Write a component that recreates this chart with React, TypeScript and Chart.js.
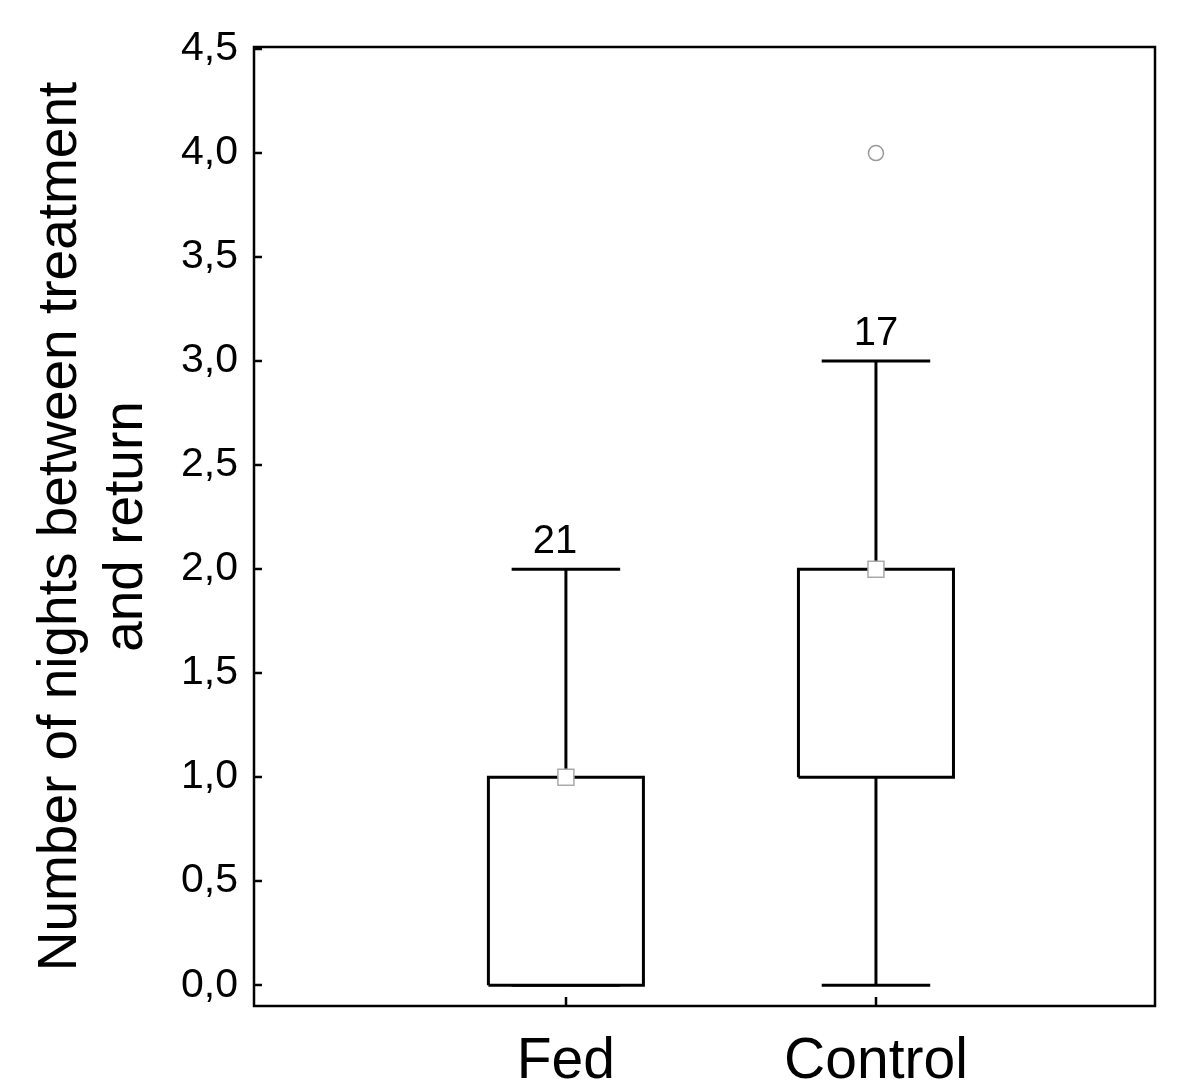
import React, { useEffect, useRef } from "react";
import { Chart, registerables } from "chart.js";

Chart.register(...registerables);

// ---- data ----
const categories = ["Fed", "Control"];
const positions = [1, 2];
const mins = [0, 0];
const q1s = [0, 1];
const medians = [1, 2];
const q3s = [1, 2];
const maxs = [2, 3];
const nLabels = ["21", "17"];
const outlierPos = [2];
const outlierVals = [4];
const yTicks = [0, 0.5, 1, 1.5, 2, 2.5, 3, 3.5, 4, 4.5];
const yTitle = ["Number of nights between treatment", "and return"];

const FONT = "'Liberation Sans', Arial, sans-serif";
const CAP_HALF = 0.175;
const BOX_HALF = 0.25;
const LW = 3;
const nLabelDx = [-11, 0];

const framePlugin = {
  id: "frameAndLabels",
  afterDraw(chart: any) {
    const { ctx, chartArea: a, scales } = chart;
    const xs = scales.x;
    const ys = scales.y;
    ctx.save();
    ctx.strokeStyle = "#000";
    ctx.lineWidth = 2.5;
    ctx.strokeRect(a.left, a.top, a.right - a.left, a.bottom - a.top);
    ctx.beginPath();
    ys.ticks.forEach((t: any) => {
      const py = Math.round(ys.getPixelForValue(t.value));
      ctx.moveTo(a.left, py);
      ctx.lineTo(a.left + 8, py);
    });
    xs.ticks.forEach((t: any) => {
      const px = Math.round(xs.getPixelForValue(t.value));
      ctx.moveTo(px, a.bottom);
      ctx.lineTo(px, a.bottom - 9);
    });
    ctx.stroke();
    ctx.fillStyle = "#000";
    ctx.font = `40px ${FONT}`;
    ctx.textAlign = "center";
    ctx.textBaseline = "alphabetic";
    nLabels.forEach((n, i) => {
      ctx.fillText(n, xs.getPixelForValue(positions[i]) + nLabelDx[i], ys.getPixelForValue(maxs[i]) - 16);
    });
    ctx.restore();
  },
};

export default function App() {
  const ref = useRef<HTMLCanvasElement>(null);
  useEffect(() => {
    if (!ref.current) return;
    const lineDatasets: any[] = [];
    const mk = (data: any[], order: number) => ({
      type: "line",
      data,
      borderColor: "#000",
      borderWidth: LW,
      pointRadius: 0,
      fill: false,
      tension: 0,
      order,
    });
    positions.forEach((p, i) => {
      lineDatasets.push(mk([{ x: p, y: q3s[i] }, { x: p, y: maxs[i] }], 4));
      lineDatasets.push(mk([{ x: p, y: q1s[i] }, { x: p, y: mins[i] }], 4));
      lineDatasets.push(mk([{ x: p - CAP_HALF, y: maxs[i] }, { x: p + CAP_HALF, y: maxs[i] }], 4));
      lineDatasets.push(mk([{ x: p - CAP_HALF, y: mins[i] }, { x: p + CAP_HALF, y: mins[i] }], 4));
      // box outline
      lineDatasets.push(
        mk(
          [
            { x: p - BOX_HALF, y: q1s[i] },
            { x: p - BOX_HALF, y: q3s[i] },
            { x: p + BOX_HALF, y: q3s[i] },
            { x: p + BOX_HALF, y: q1s[i] },
            { x: p - BOX_HALF, y: q1s[i] },
          ],
          2
        )
      );
    });
    const chart = new Chart(ref.current, {
      type: "scatter",
      data: {
        datasets: [
          ...lineDatasets,
          {
            type: "bar",
            data: positions.map((p, i) => ({ x: p, y: [q1s[i], q3s[i]] })),
            backgroundColor: "#fff",
            borderWidth: 0,
            barPercentage: 0.5,
            categoryPercentage: 1,
            order: 3,
          } as any,
          {
            type: "scatter",
            data: positions.map((p, i) => ({ x: p, y: medians[i] })),
            pointStyle: "rect",
            pointRadius: 11.3,
            backgroundColor: "#fff",
            borderColor: "#aaaaaa",
            borderWidth: 1.5,
            order: 1,
          },
          {
            type: "scatter",
            data: outlierPos.map((p, i) => ({ x: p, y: outlierVals[i] })),
            pointStyle: "circle",
            pointRadius: 7.5,
            backgroundColor: "#fff",
            borderColor: "#999999",
            borderWidth: 1.5,
            order: 1,
          },
        ],
      },
      options: {
        responsive: false,
        animation: false,
        events: [],
        layout: { padding: { top: 47, right: 45, left: 0, bottom: 0 } },
        plugins: { legend: { display: false }, tooltip: { enabled: false } },
        scales: {
          x: {
            type: "linear",
            min: -0.006,
            max: 2.9,
            offset: false,
            grid: { display: false, drawTicks: false },
            border: { display: false },
            afterBuildTicks: (s: any) => {
              s.ticks = positions.map((v) => ({ value: v }));
            },
            afterFit: (s: any) => {
              s.height = 85;
            },
            ticks: {
              autoSkip: false,
              maxRotation: 0,
              padding: 22,
              color: "#000",
              font: { family: FONT, size: 57 },
              callback: (v: any) => categories[positions.indexOf(Number(v))] ?? "",
            },
          },
          y: {
            type: "linear",
            min: -0.1,
            max: 4.51,
            grid: { display: false, drawTicks: false },
            border: { display: false },
            afterBuildTicks: (s: any) => {
              s.ticks = yTicks.map((v) => ({ value: v }));
            },
            afterFit: (s: any) => {
              s.width = 254;
            },
            ticks: {
              padding: 16,
              color: "#000",
              font: { family: FONT, size: 41 },
              callback: (v: any) => Number(v).toFixed(1).replace(".", ","),
            },
            title: {
              display: true,
              text: yTitle,
              color: "#000",
              font: { family: FONT, size: 55, lineHeight: 1.2 },
              padding: { top: 28, bottom: 0 },
            },
          },
        },
      },
      plugins: [framePlugin],
    });
    return () => chart.destroy();
  }, []);
  return (
    <div style={{ position: "fixed", left: 0, top: 0, width: 1200, height: 1091, background: "#fff" }}>
      <canvas ref={ref} width={1200} height={1091} />
    </div>
  );
}
